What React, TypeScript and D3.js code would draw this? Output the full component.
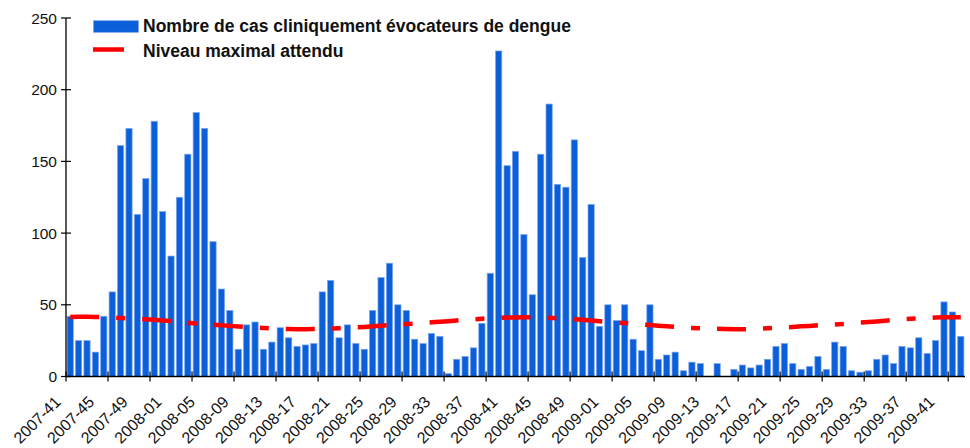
import React from "react";
import * as d3 from "d3";

// ---- data ----
const startYear = 2007;
const startWeek = 41;
const nWeeks = 107;
const weeks: string[] = [];
{
  let y = startYear;
  let w = startWeek;
  for (let i = 0; i < nWeeks; i++) {
    weeks.push(`${y}-${String(w).padStart(2, "0")}`);
    w++;
    if (w > 52) {
      w = 1;
      y++;
    }
  }
}

const cases: number[] = [
  42, 25, 25, 17, 42, 59, 161, 173, 113, 138, 178, 115, 84, 125, 155, 184, 173, 94,
  61, 46, 19, 36, 38, 19, 24, 34, 27, 21, 22, 23, 59, 67, 27, 36, 23, 19,
  46, 69, 79, 50, 46, 26, 23, 30, 28, 2, 12, 14, 20, 37, 72, 227, 147, 157,
  99, 57, 155, 190, 134, 132, 165, 83, 120, 35, 50, 39, 50, 26, 18, 50, 12, 15,
  17, 4, 10, 9, 0, 9, 0, 5, 8, 6, 8, 12, 21, 23, 9, 5, 7,
  14, 5, 24, 21, 4, 3, 4, 12, 15, 9, 21, 20, 27, 16, 25, 52, 45, 28,
];

const maxLevel: number[] = [
  41.5, 41.6, 41.6, 41.5, 41.3, 41.0, 40.8, 40.5, 40.2, 39.9, 39.5, 39.1, 38.7, 38.1,
  37.5, 37.0, 36.5, 36.1, 35.7, 35.3, 34.9, 34.5, 34.1, 33.8, 33.5, 33.2, 33.1, 33.0,
  33.0, 33.1, 33.2, 33.5, 33.7, 34.0, 34.3, 34.6, 35.0, 35.4, 35.8, 36.2, 36.6, 36.9,
  37.4, 37.8, 38.2, 38.6, 39.1, 39.5, 39.9, 40.3, 40.6, 40.9, 41.1, 41.2, 41.3, 41.3,
  41.1, 40.9, 40.6, 40.3, 40.0, 39.6, 39.1, 38.6, 38.0, 37.6, 37.3, 36.8, 36.3, 35.9,
  35.4, 35.0, 34.7, 34.3, 33.9, 33.6, 33.4, 33.3, 33.1, 33.0, 32.9, 33.0, 33.3, 33.6,
  33.9, 34.2, 34.6, 35.0, 35.3, 35.7, 36.0, 36.3, 36.6, 37.0, 37.6, 38.0, 38.4, 38.9,
  39.4, 39.8, 40.2, 40.5, 40.8, 41.1, 41.3, 41.4, 41.4,
];

const tickLabels: string[] = [
  "2007-41", "2007-45", "2007-49", "2008-01", "2008-05", "2008-09", "2008-13",
  "2008-17", "2008-21", "2008-25", "2008-29", "2008-33", "2008-37", "2008-41",
  "2008-45", "2008-49", "2009-01", "2009-05", "2009-09", "2009-13", "2009-17",
  "2009-21", "2009-25", "2009-29", "2009-33", "2009-37", "2009-41",
];
const yTicks: number[] = [0, 50, 100, 150, 200, 250];

const legendLabels = [
  "Nombre de cas cliniquement évocateurs de dengue",
  "Niveau maximal attendu",
];

// ---- layout ----
const W = 970;
const H = 448;
const left = 66;
const right = 965;
const top = 18;
const bottom = 376.5;
const font = "'Liberation Sans', Arial, Helvetica, sans-serif";
const blue = "#0b5fd8";
const blueEdge = "#7aa4f0";

export default function App() {
  const x = d3
    .scaleBand<string>()
    .domain(weeks)
    .range([left, right])
    .paddingInner(0.26)
    .paddingOuter(0.13);
  const y = d3.scaleLinear().domain([0, 250]).range([bottom, top]);
  const step = x.step();
  const cx = (w: string) => (x(w) as number) + x.bandwidth() / 2;
  const boundary = (i: number) => left + i * step;

  const line = d3
    .line<number>()
    .x((_, i) => cx(weeks[i]))
    .y((d) => y(d));

  const tickIdx = d3.range(0, nWeeks, 5);

  return (
    <svg
      width={W}
      height={H}
      style={{ position: "absolute", left: 0, top: 0, background: "#fff" }}
      fontFamily={font}
    >
      <rect x={0} y={0} width={W} height={H} fill="#fff" />
      {/* bars */}
      {cases.map((v, i) =>
        v > 0 ? (
          <rect
            key={i}
            x={x(weeks[i])}
            y={y(v)}
            width={x.bandwidth()}
            height={y(0) - y(v)}
            fill={blue}
            stroke={blueEdge}
            strokeWidth={0.7}
          />
        ) : null
      )}
      {/* expected level */}
      <path
        d={line(maxLevel) || ""}
        fill="none"
        stroke="#ff0000"
        strokeWidth={4.5}
        strokeDasharray="29 17 9 17"
      />
      {/* axes */}
      <line x1={left} x2={left} y1={top} y2={bottom} stroke="#000" strokeWidth={1.3} />
      <line x1={left} x2={right} y1={bottom} y2={bottom} stroke="#000" strokeWidth={1.3} />
      {yTicks.map((t) => (
        <g key={t}>
          <line x1={left - 5} x2={left + 5} y1={y(t)} y2={y(t)} stroke="#000" strokeWidth={1.2} />
          <text
            x={57}
            y={y(t)}
            dy="0.36em"
            textAnchor="end"
            fontSize={15.5}
            fill="#111"
          >
            {t}
          </text>
        </g>
      ))}
      {tickIdx.map((i) => (
        <line
          key={i}
          x1={boundary(i)}
          x2={boundary(i)}
          y1={bottom - 5}
          y2={bottom + 5}
          stroke="#000"
          strokeWidth={1.2}
        />
      ))}
      {tickLabels.map((lab) => {
        const px = cx(lab) - 8.5;
        const py = 403;
        return (
          <text
            key={lab}
            transform={`translate(${px},${py}) rotate(-45)`}
            textAnchor="end"
            fontSize={16}
            fill="#111"
          >
            {lab}
          </text>
        );
      })}
      {/* legend */}
      <rect x={93.5} y={20.7} width={45} height={11.6} fill={blue} stroke={blueEdge} strokeWidth={0.7} />
      <text x={143} y={32.3} fontSize={17.5} fontWeight="bold" fill="#111">
        {legendLabels[0]}
      </text>
      <line x1={93} x2={124} y1={49.5} y2={49.5} stroke="#ff0000" strokeWidth={4.5} />
      <text x={143} y={57.3} fontSize={17.5} fontWeight="bold" fill="#111">
        {legendLabels[1]}
      </text>
    </svg>
  );
}
